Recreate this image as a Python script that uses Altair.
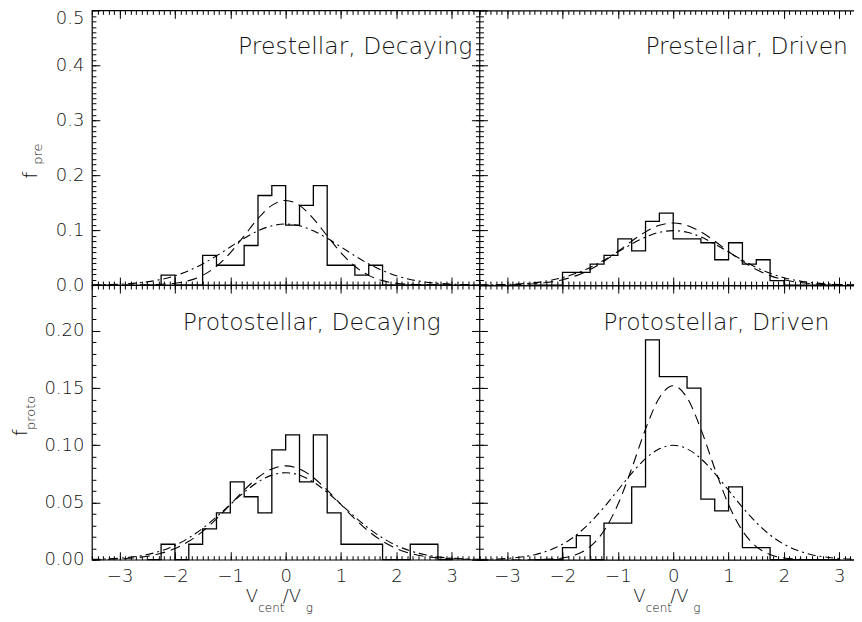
import altair as alt
import pandas as pd

# ---------------- data ----------------
bin_edges = [-2.5, -2.25, -2.0, -1.75, -1.5, -1.25, -1.0, -0.75, -0.5, -0.25, 0.0,
             0.25, 0.5, 0.75, 1.0, 1.25, 1.5, 1.75, 2.0, 2.25, 2.5, 2.75, 3.0]

hist_pre_decay = [0, 0.018, 0, 0, 0.054, 0.036, 0.036, 0.072, 0.163, 0.181, 0.109,
                  0.145, 0.181, 0.036, 0.036, 0.018, 0.036, 0, 0, 0, 0, 0, 0]
hist_pre_driven = [0, 0, 0.023, 0.023, 0.038, 0.054, 0.084, 0.062, 0.116, 0.131, 0.084,
                   0.084, 0.077, 0.046, 0.077, 0.038, 0.046, 0.008, 0, 0, 0, 0, 0]
hist_proto_decay = [0, 0.0135, 0, 0.0135, 0.027, 0.041, 0.068, 0.055, 0.041, 0.096, 0.109,
                    0.068, 0.109, 0.041, 0.0135, 0.0135, 0.0135, 0, 0, 0.0135, 0.0135, 0, 0]
hist_proto_driven = [0, 0, 0.0105, 0.021, 0, 0.032, 0.032, 0.0636, 0.192, 0.160, 0.160,
                     0.150, 0.053, 0.0426, 0.0636, 0.0105, 0.0105, 0, 0, 0, 0, 0, 0]

curve_x = [-3.5, -3.25, -3.0, -2.75, -2.5, -2.25, -2.0, -1.75, -1.5, -1.25, -1.0, -0.75,
           -0.5, -0.25, 0.0, 0.25, 0.5, 0.75, 1.0, 1.25, 1.5, 1.75, 2.0, 2.25, 2.5, 2.75,
           3.0, 3.25, 3.5]

fit_pre_decay_dash = [0.0, 0.0, 0.0, 0.0001, 0.0004, 0.0012, 0.0032, 0.0080, 0.0176, 0.0341,
                      0.0587, 0.0895, 0.1210, 0.1450, 0.1540, 0.1450, 0.1210, 0.0895, 0.0587,
                      0.0341, 0.0176, 0.0080, 0.0032, 0.0012, 0.0004, 0.0001, 0.0, 0.0, 0.0]
fit_pre_decay_dashdot = [0.0003, 0.0008, 0.0016, 0.0031, 0.0058, 0.0102, 0.0168, 0.0262, 0.0384,
                         0.0531, 0.0693, 0.0851, 0.0987, 0.1078, 0.1110, 0.1078, 0.0987, 0.0851,
                         0.0693, 0.0531, 0.0384, 0.0262, 0.0168, 0.0102, 0.0058, 0.0031, 0.0016,
                         0.0008, 0.0003]
fit_pre_driven_dash = [0.0001, 0.0002, 0.0004, 0.0011, 0.0024, 0.0050, 0.0096, 0.0171, 0.0282,
                       0.0431, 0.0610, 0.0799, 0.0968, 0.1087, 0.1130, 0.1087, 0.0968, 0.0799,
                       0.0610, 0.0431, 0.0282, 0.0171, 0.0096, 0.0050, 0.0024, 0.0011, 0.0004,
                       0.0002, 0.0001]
fit_pre_driven_dashdot = [0.0002, 0.0005, 0.0011, 0.0023, 0.0043, 0.0079, 0.0134, 0.0214, 0.0321,
                          0.0453, 0.0600, 0.0747, 0.0874, 0.0960, 0.0990, 0.0960, 0.0874, 0.0747,
                          0.0600, 0.0453, 0.0321, 0.0214, 0.0134, 0.0079, 0.0043, 0.0023, 0.0011,
                          0.0005, 0.0002]
fit_proto_decay_dash = [0.0001, 0.0003, 0.0007, 0.0015, 0.0030, 0.0056, 0.0098, 0.0161, 0.0248,
                        0.0357, 0.0482, 0.0608, 0.0718, 0.0793, 0.0820, 0.0793, 0.0718, 0.0608,
                        0.0482, 0.0357, 0.0248, 0.0161, 0.0098, 0.0056, 0.0030, 0.0015, 0.0007,
                        0.0003, 0.0001]
fit_proto_decay_dashdot = [0.0003, 0.0006, 0.0013, 0.0025, 0.0045, 0.0077, 0.0124, 0.0190, 0.0274,
                           0.0374, 0.0483, 0.0589, 0.0679, 0.0739, 0.0760, 0.0739, 0.0679, 0.0589,
                           0.0483, 0.0374, 0.0274, 0.0190, 0.0124, 0.0077, 0.0045, 0.0025, 0.0013,
                           0.0006, 0.0003]
fit_proto_driven_dash = [0.0, 0.0, 0.0, 0.0, 0.0001, 0.0005, 0.0015, 0.0045, 0.0115, 0.0253,
                         0.0482, 0.0797, 0.1141, 0.1415, 0.1520, 0.1415, 0.1141, 0.0797, 0.0482,
                         0.0253, 0.0115, 0.0045, 0.0015, 0.0005, 0.0001, 0.0, 0.0, 0.0, 0.0]
fit_proto_driven_dashdot = [0.0002, 0.0005, 0.0011, 0.0023, 0.0044, 0.0080, 0.0135, 0.0216, 0.0325,
                            0.0458, 0.0607, 0.0755, 0.0883, 0.0969, 0.1000, 0.0969, 0.0883, 0.0755,
                            0.0607, 0.0458, 0.0325, 0.0216, 0.0135, 0.0080, 0.0044, 0.0023, 0.0011,
                            0.0005, 0.0002]

panel_titles = ["Prestellar, Decaying", "Prestellar, Driven",
                "Protostellar, Decaying", "Protostellar, Driven"]
x_tick_values = [-3, -2, -1, 0, 1, 2, 3]
y_pre_ticks = [0.0, 0.1, 0.2, 0.3, 0.4, 0.5]
y_proto_ticks = [0.0, 0.05, 0.10, 0.15, 0.20]
y_title_main = "f"
y_title_subs = ["pre", "proto"]
x_title_parts = ["V", "cent", "/V", "g"]

# ---------------- styling ----------------
WL, WR, H = 388, 375, 275          # right panel runs past the picture edge in the original
UNIT = WL / 7.0
XR_MAX = -3.5 + WR / UNIT
MAJ, MIN = 8, 4
FONT = "DejaVu Sans"
TXT = "#111"
x_minor = [round(-3.5 + 0.1 * i, 1) for i in range(71)]
y_pre_minor = [round(0.01 * i, 2) for i in range(51)]
y_proto_minor = [round(0.01 * i, 2) for i in range(25)]

TOP_TEST = "datum.value >= 0.49"


def axis(orient, values, size, labels, fmt=None, pad=0):
    kw = dict(orient=orient, values=values, tickSize=size, offset=-size, domain=False,
              grid=False, title=None, labels=labels, tickColor="black", tickWidth=1,
              minExtent=0)
    if labels:
        kw.update(format=fmt, labelPadding=pad, labelFont=FONT, labelFontSize=18,
                  labelColor=TXT, labelFontWeight=200)
        if orient == "left":
            kw["labelBaseline"] = {"condition": {"test": TOP_TEST, "value": "top"},
                                   "value": "middle"}
            kw["labelOffset"] = {"condition": {"test": TOP_TEST, "value": -1}, "value": 0}
        else:
            kw["labelBaseline"] = "middle"
    return alt.Axis(**kw)


def frame_axis(orient):
    return alt.Axis(orient=orient, domain=True, ticks=False, labels=False, grid=False,
                    title=None, offset=0, domainColor="black", domainWidth=1.2, minExtent=0)


def text_layer(s, x, y, size, align="left", angle=0):
    kw = dict(align=align, baseline="middle", font=FONT, fontSize=size,
              fontWeight=200, color=TXT)
    if angle:
        kw["angle"] = angle
    return alt.Chart(pd.DataFrame({"t": [s]})).mark_text(**kw).encode(
        text="t:N", x=alt.value(x), y=alt.value(y))


def panel(hist, dash, dashdot, title, title_pos, ydom, ymaj, ymin, yfmt, show_x, left_col, ysub):
    hdf = pd.DataFrame({"v": bin_edges, "f": hist})
    cdf = pd.DataFrame({"v": curve_x, "d": dash, "dd": dashdot})
    width = WL if left_col else WR
    xmax = 3.5 if left_col else XR_MAX
    xs = alt.Scale(domain=[-3.5, xmax], nice=False, zero=False)
    ys = alt.Scale(domain=ydom, nice=False, zero=False)
    xmin_vals = [v for v in x_minor if v <= xmax]
    l1 = alt.Chart(hdf).mark_line(interpolate="step-after", color="black", strokeWidth=1.3).encode(
        x=alt.X("v:Q", scale=xs, axis=axis("bottom", x_tick_values, MAJ, show_x, "d", 17)),
        y=alt.Y("f:Q", scale=ys, axis=axis("left", ymaj, MAJ, left_col, yfmt, 8)))
    l2 = alt.Chart(cdf).mark_line(interpolate="monotone", color="black", strokeWidth=1.1,
                                  strokeDash=[10, 6], clip=True).encode(
        x=alt.X("v:Q", scale=xs, axis=axis("top", x_tick_values, MAJ, False)),
        y=alt.Y("d:Q", scale=ys, axis=axis("right", ymaj, MAJ, False) if left_col else None))
    l3 = alt.Chart(cdf).mark_line(interpolate="monotone", color="black", strokeWidth=1.1,
                                  strokeDash=[8, 4, 2, 4], clip=True).encode(
        x=alt.X("v:Q", scale=xs, axis=axis("bottom", xmin_vals, MIN, False)),
        y=alt.Y("dd:Q", scale=ys, axis=axis("left", ymin, MIN, False)))
    l4 = alt.Chart(hdf).mark_point(opacity=0).encode(
        x=alt.X("v:Q", scale=xs, axis=axis("top", xmin_vals, MIN, False)),
        y=alt.Y("f:Q", scale=ys, axis=axis("right", ymin, MIN, False) if left_col else None))
    layers = [l1, l2, l3, l4]
    if not left_col:
        for o in ("top", "bottom"):
            layers.append(alt.Chart(hdf).mark_point(opacity=0).encode(
                x=alt.X("v:Q", scale=xs, axis=frame_axis(o)),
                y=alt.Y("f:Q", scale=ys, axis=None)))
    tx, ty, talign, tsize = title_pos
    layers.append(text_layer(title, tx, ty, tsize, align=talign))
    if left_col:
        fx, fy, sx, sy = ysub[1]
        layers.append(text_layer(y_title_main, fx, fy, 20, align="center", angle=270))
        layers.append(text_layer(ysub[0], sx, sy, 13, align="center", angle=270))
    if show_x:
        xs_pos = [154, 166.5, 191, 214]
        ys_pos = [H + 37.5, H + 48.5, H + 37.5, H + 48.5]
        sizes = [18, 12, 18, 12]
        for part, px, py, fs in zip(x_title_parts, xs_pos, ys_pos, sizes):
            layers.append(text_layer(part, px, py, fs))
    props = dict(width=width, height=H)
    if not left_col:
        props["view"] = alt.ViewBackground(stroke=None)
    return alt.layer(*layers).resolve_axis(x="independent", y="independent").properties(**props)


tl = panel(hist_pre_decay, fit_pre_decay_dash, fit_pre_decay_dashdot, panel_titles[0],
           (381, 36.5, "right", 23.5), [0, 0.5], y_pre_ticks, y_pre_minor, ".1f", False, True,
           (y_title_subs[0], (-61, 165, -54, 144)))
tr = panel(hist_pre_driven, fit_pre_driven_dash, fit_pre_driven_dashdot, panel_titles[1],
           (369, 36.5, "right", 23.5), [0, 0.5], y_pre_ticks, y_pre_minor, ".1f", False, False, None)
bl = panel(hist_proto_decay, fit_proto_decay_dash, fit_proto_decay_dashdot, panel_titles[2],
           (91, 38, "left", 23.5), [0, 0.24], y_proto_ticks, y_proto_minor, ".2f", True, True,
           (y_title_subs[1], (-71, 148, -61, 128)))
br = panel(hist_proto_driven, fit_proto_driven_dash, fit_proto_driven_dashdot, panel_titles[3],
           (124, 38, "left", 23.5), [0, 0.24], y_proto_ticks, y_proto_minor, ".2f", True, False, None)

chart = alt.concat(tl, tr, bl, br, columns=2, spacing=0, bounds="flush").properties(
    padding={"left": 2, "top": 0, "right": 0, "bottom": 0},
    background="white",
).configure_view(stroke="black", strokeWidth=1.2)

chart.save("out.html", embed_options={"renderer": "svg", "actions": False})
